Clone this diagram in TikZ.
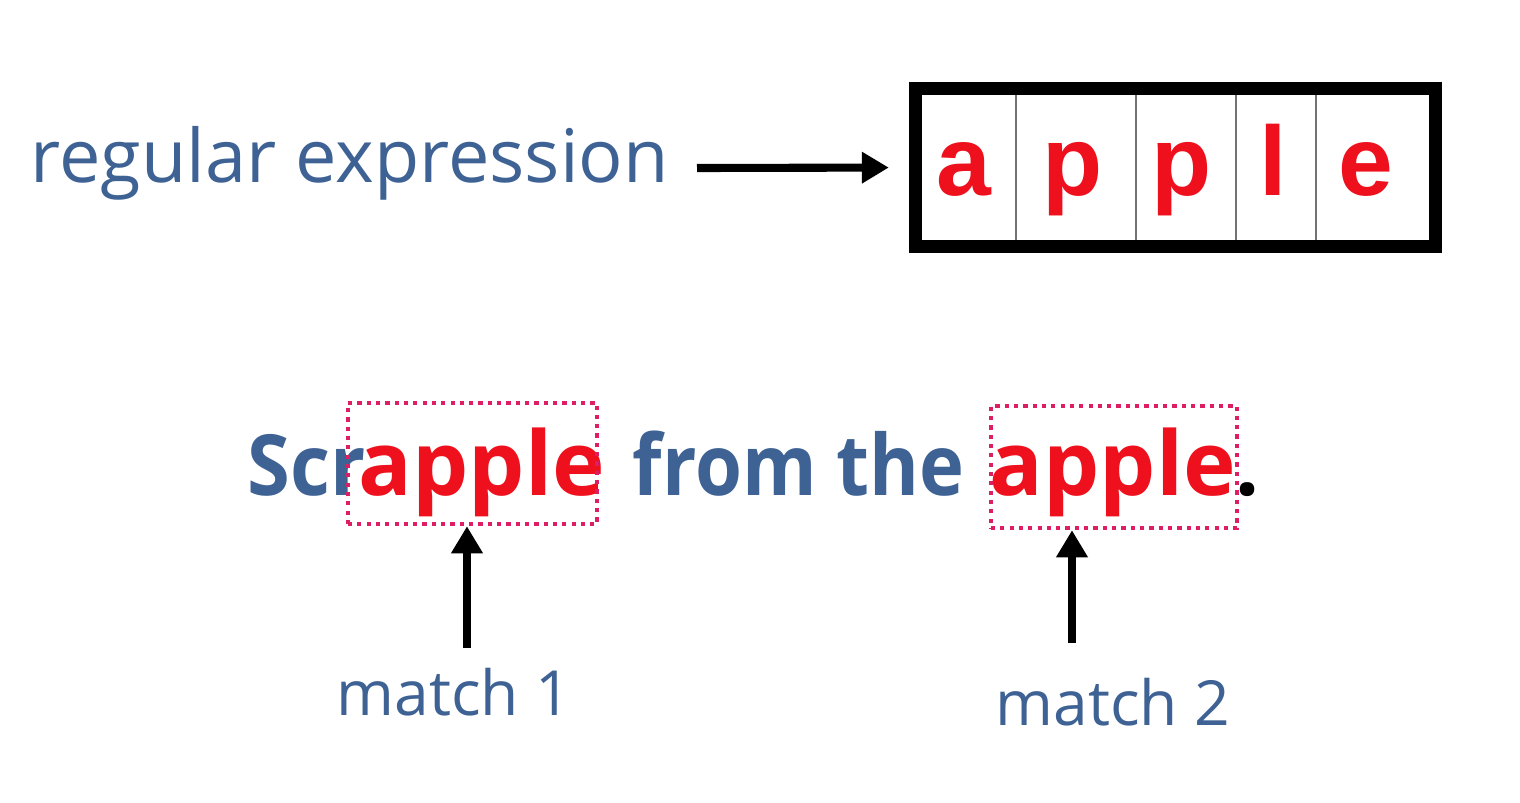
\documentclass[tikz,border=0pt]{standalone}
\usepackage{fontspec}
\setmainfont{Open Sans}
\newfontfamily\arialfont{Liberation Sans}
\usetikzlibrary{arrows.meta}
\definecolor{blueT}{RGB}{62,98,148}
\definecolor{redT}{RGB}{238,16,28}
\definecolor{pinkD}{RGB}{222,30,100}
\tikzset{
  bluetext/.style={text=blueT, inner sep=0pt},
  letter/.style={text=redT, anchor=base, inner sep=0pt, font=\arialfont\bfseries\fontsize{28}{32}\selectfont},
  arr/.style={line width=2.3pt, -{Triangle[length=0.27cm,width=0.3cm]}},
  matchbox/.style={draw=pinkD, line width=1.25pt, dash pattern=on 1.2pt off 1.45pt, inner sep=0pt},
  divider/.style={draw=black!55, line width=0.6pt},
  sentpart/.style={inner sep=0pt, anchor=base west, font=\bfseries\fontsize{24}{28}\selectfont},
  redpart/.style={sentpart, text=redT, font=\bfseries\fontsize{25.3}{29}\selectfont}
}
\begin{document}
\begin{tikzpicture}[x=0.01cm,y=-0.01cm]
\useasboundingbox (0,0) rectangle (1520,802);
\node[bluetext, anchor=base west, font=\fontsize{21}{25}\selectfont] (re) at (30,182) {regular expression};
\node[draw=black, line width=3.7pt, minimum width=5.2cm, minimum height=1.58cm, inner sep=0pt] (box) at (1175.5,167.5) {};
\draw[divider] (1016,95) -- (1016,240);
\draw[divider] (1136,95) -- (1136,240);
\draw[divider] (1236,95) -- (1236,240);
\draw[divider] (1316,95) -- (1316,240);
\node[letter] (l1) at (964,195) {a};
\node[letter] (l2) at (1073,195) {p};
\node[letter] (l3) at (1182,195) {p};
\node[letter] (l4) at (1273,195) {l};
\node[letter] (l5) at (1366,195) {e};
\coordinate (a0) at (697,168);
\draw[arr] (a0) -- (box.west) [shorten >=0.2cm];
\node[sentpart, text=blueT] (s1) at (247,495) {\scalebox{0.92}[1]{Scr}};
\node[redpart] (s2) at (358,495) {apple};
\node[sentpart, text=blueT] (s3) at (632,495) {\scalebox{0.9}[1]{from the}};
\node[redpart] (s4) at (989,495) {apple};
\node[sentpart, text=black] (s5) at (1235,495) {.};
\node[matchbox, minimum width=2.49cm, minimum height=1.21cm] (m1) at (472.5,463.5) {};
\node[matchbox, minimum width=2.46cm, minimum height=1.22cm] (m2) at (1114,467) {};
\node[bluetext, anchor=base west, font=\fontsize{17.7}{21}\selectfont] (t1) at (336,715) {match 1};
\node[bluetext, anchor=base west, font=\fontsize{17.7}{21}\selectfont] (t2) at (995,725) {match 2};
\coordinate (c1) at (467,648);
\coordinate (c2) at (1072,643);
\draw[arr] (c1) -- (c1 |- m1.south);
\draw[arr] (c2) -- (c2 |- m2.south);
\end{tikzpicture}
\end{document}
